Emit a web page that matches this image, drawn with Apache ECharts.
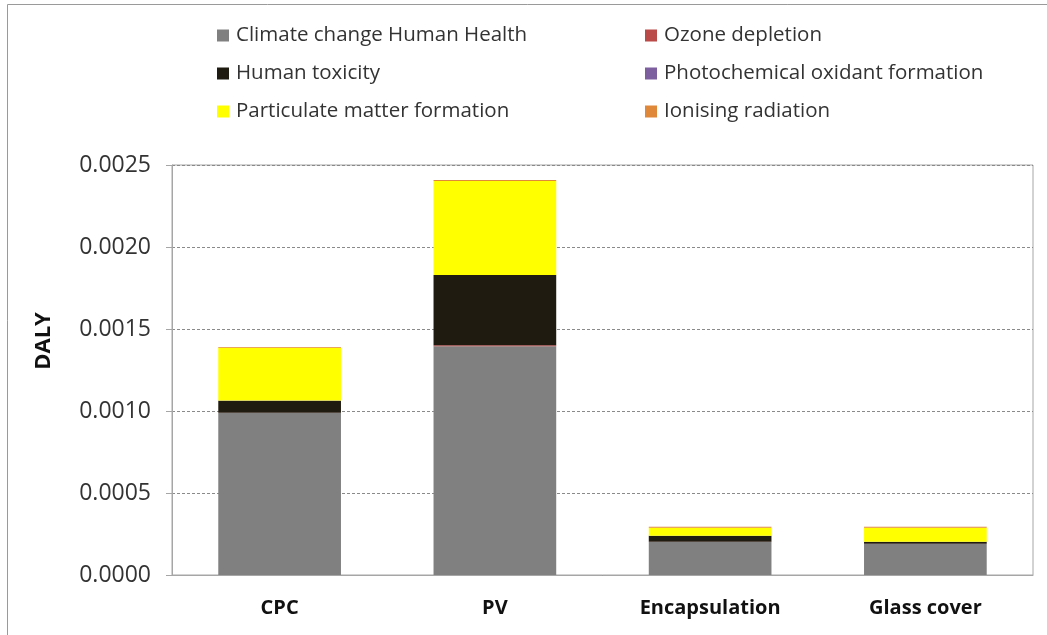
<!DOCTYPE html>
<html><head><meta charset="utf-8">
<script src="https://cdn.jsdelivr.net/npm/echarts@6/dist/echarts.min.js"></script>
<style>html,body{margin:0;padding:0;background:#fff}#c{width:1047px;height:635px}</style>
</head><body><div id="c"></div>
<script>
const categories = ['CPC', 'PV', 'Encapsulation', 'Glass cover'];
const climateChange = [0.000988, 0.001395, 0.000201, 0.000189];
const ozoneDepletion = [0.000002, 0.000006, 0.000001, 0.000001];
const humanToxicity = [0.000073, 0.000428, 0.000037, 0.000012];
const photochemical = [0.000001, 0.000001, 0.000001, 0.000001];
const particulate = [0.000322, 0.000573, 0.000048, 0.000085];
const ionising = [0.000005, 0.000006, 0.000006, 0.000006];
const yTicks = [0, 0.0005, 0.0010, 0.0015, 0.0020, 0.0025];

const seriesDefs = [
  ['Climate change Human Health', climateChange, '#808080'],
  ['Ozone depletion', ozoneDepletion, '#b94a48'],
  ['Human toxicity', humanToxicity, '#1f1b10'],
  ['Photochemical oxidant formation', photochemical, '#7d5fa0'],
  ['Particulate matter formation', particulate, '#ffff00'],
  ['Ionising radiation', ionising, '#e0883a']
];

const chart = echarts.init(document.getElementById('c'));
const FONT = '"Open Sans", "Liberation Sans", sans-serif';
const legendCommon = {
  orient: 'vertical', itemWidth: 12, itemHeight: 12, itemGap: 17,
  icon: 'rect', selectedMode: false,
  textStyle: { fontFamily: FONT, fontSize: 20.5, lineHeight: 21, color: '#333', padding: [0,0,0,2] }
};
chart.setOption({
  animation: false,
  backgroundColor: '#fff',
  graphic: [
    { type: 'rect', shape: { x: 7.5, y: 4.5, width: 1100, height: 700 }, style: { fill: 'none', stroke: '#9a9a9a', lineWidth: 1 } },
    { type: 'text', x: 44, y: 341, rotation: Math.PI / 2,
      style: { text: 'DALY', fontFamily: FONT, fontWeight: 'bold', fontSize: 22, fill: '#111', align: 'center', verticalAlign: 'middle' } }
  ],
  legend: [
    Object.assign({ left: 212, top: 20, data: [seriesDefs[0][0], seriesDefs[2][0], seriesDefs[4][0]] }, legendCommon),
    Object.assign({ left: 640, top: 20, data: [seriesDefs[1][0], seriesDefs[3][0], seriesDefs[5][0]] }, legendCommon)
  ],
  grid: { left: 172, right: 14, top: 165, bottom: 60, show: true, borderColor: '#a6a6a6', borderWidth: 1, containLabel: false },
  xAxis: {
    type: 'category', data: categories,
    axisLine: { lineStyle: { color: '#a6a6a6', width: 1 } },
    axisTick: { show: false },
    axisLabel: { fontFamily: FONT, fontWeight: 'bold', fontSize: 20, color: '#111', margin: 23 }
  },
  yAxis: {
    type: 'value', min: 0, max: yTicks[yTicks.length - 1], interval: yTicks[1] - yTicks[0],
    axisLine: { show: true, lineStyle: { color: '#a6a6a6' } },
    axisTick: { show: true, length: 6, lineStyle: { color: '#a6a6a6' } },
    axisLabel: { fontFamily: FONT, fontSize: 23, color: '#333', margin: 21, formatter: v => v.toFixed(4) },
    splitLine: { show: true, lineStyle: { color: '#8a8a8a', type: [3, 2], width: 1 } }
  },
  series: seriesDefs.map(([name, data, color]) => ({
    name, type: 'bar', stack: 'total', data, barWidth: '57%',
    itemStyle: { color }
  }))
});
</script></body></html>
